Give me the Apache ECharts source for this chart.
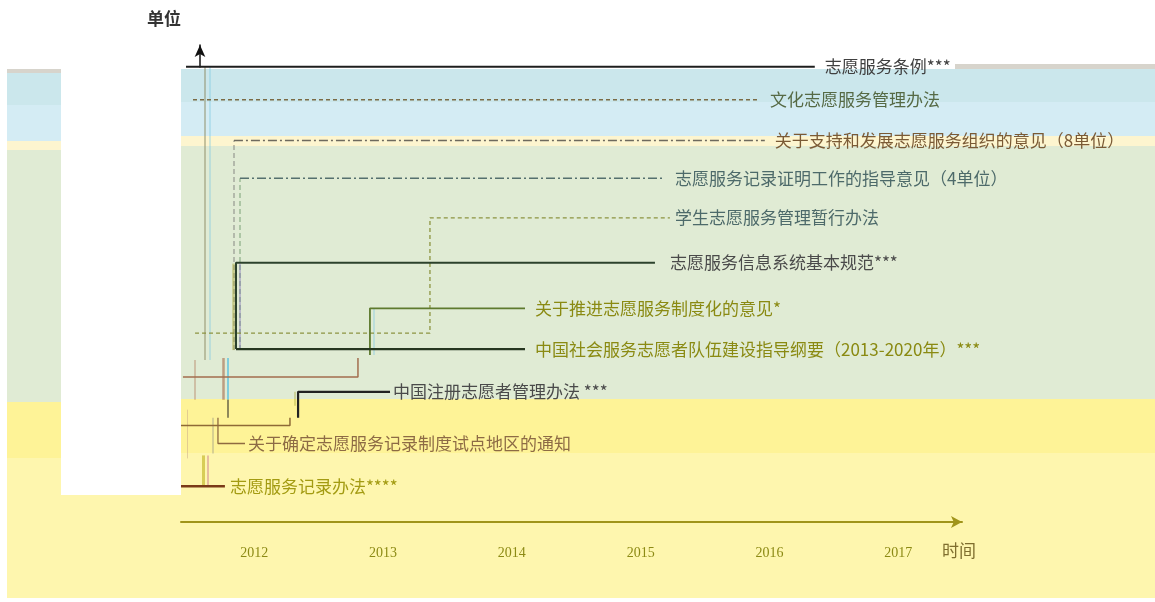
<!DOCTYPE html>
<html>
<head>
<meta charset="utf-8">
<script src="https://cdn.jsdelivr.net/npm/echarts@6/dist/echarts.min.js"></script>
<style>html,body{margin:0;padding:0;background:#fff}#c{width:1155px;height:602px}</style>
</head>
<body>
<div id="c"></div>
<script>
// ---------- data (x in years, y in levels) ----------
const tickLabels = ['2012', '2013', '2014', '2015', '2016', '2017'];
const axisNames = { x: '时间', y: '单位' };

const policyNames = [
  '志愿服务条例***',
  '文化志愿服务管理办法',
  '关于支持和发展志愿服务组织的意见（8单位）',
  '志愿服务记录证明工作的指导意见（4单位）',
  '学生志愿服务管理暂行办法',
  '志愿服务信息系统基本规范***',
  '关于推进志愿服务制度化的意见*',
  '中国社会服务志愿者队伍建设指导纲要（2013-2020年）***',
  '中国注册志愿者管理办法 ***',
  '关于确定志愿服务记录制度试点地区的通知',
  '志愿服务记录办法****'
];
const policyPaths = [
  [[2011.470, 45.8], [2016.352, 45.8]],
  [[2011.524, 42.5], [2015.926, 42.5]],
  [[2011.842, 38.4], [2015.964, 38.4]],
  [[2011.889, 34.6], [2015.189, 34.6]],
  [[2011.540, 19.0], [2013.364, 19.0], [2013.364, 30.6], [2015.227, 30.6]],
  [[2011.858, 17.4], [2011.858, 26.1], [2015.111, 26.1]],
  [[2012.898, 16.8], [2012.898, 21.5], [2014.102, 21.5]],
  [[2011.858, 17.4], [2014.102, 17.4]],
  [[2012.340, 10.5], [2012.340, 13.1], [2013.054, 13.1]],
  [[2011.718, 10.5], [2011.718, 7.9], [2011.928, 7.9]],
  [[2011.431, 3.6], [2011.772, 3.6]]
];
const extraPaths = [
  [[2011.446, 14.6], [2012.805, 14.6], [2012.805, 16.5]],
  [[2011.431, 9.7], [2012.277, 9.7], [2012.277, 10.5]]
];
const connX    = [2011.617, 2011.656, 2011.842, 2011.889, 2011.835, 2011.889, 2012.929, 2011.540, 2011.757, 2011.796, 2011.796, 2011.602, 2011.640, 2011.679, 2011.478, 2012.316];
const connFrom = [16.3, 16.3, 17.3, 17.3, 17.3, 17.3, 16.8, 12.3, 12.3, 12.3, 10.5, 3.6, 3.6, 6.9, 6.4, 11.7];
const connTo   = [45.8, 45.8, 38.4, 34.6, 26.0, 26.0, 21.5, 16.3, 16.5, 16.5, 12.3, 6.7, 6.7, 10.5, 11.3, 13.1];

// ---------- styles ----------
const policyLine = [
  { color: '#1e1e1e', width: 2, type: 'solid' },
  { color: '#7b6b45', width: 1.5, type: [4, 3] },
  { color: '#6e6a5e', width: 1.5, type: [9, 3, 2, 3] },
  { color: '#55706e', width: 1.5, type: [9, 3, 2, 3] },
  { color: '#8c9440', width: 1.3, type: [4, 3] },
  { color: '#2c422c', width: 2, type: 'solid' },
  { color: '#5e7a2e', width: 1.8, type: 'solid' },
  { color: '#263620', width: 2.2, type: 'solid' },
  { color: '#222222', width: 2.2, type: 'solid' },
  { color: '#8e6a40', width: 1.3, type: 'solid' },
  { color: '#7a3a18', width: 2.5, type: 'solid' }
];
const policyLabelColor = ['#404040', '#566a45', '#7a5a35', '#4d6a6a', '#4d6a6a', '#4a4a4a', '#8a8a12', '#8a8a12', '#4a4a4a', '#8d6b45', '#a39b12'];
const policyLabelDist = [10, 10, 10, 10, 5, 15, 10, 10, 3, 3, 5];
const extraLine = [
  { color: '#a36e4e', width: 1.5 },
  { color: '#8e6a36', width: 1.5 }
];
const connStyle = [
  { color: '#8f8f6a', width: 2 }, { color: '#7fcbe4', width: 1.5 },
  { color: '#6a6a6a', width: 1.5, type: [5, 3] }, { color: '#5a8a5a', width: 1.5, type: [5, 3] },
  { color: '#a8a838', width: 2.5 }, { color: '#7a6ab8', width: 1.5 },
  { color: '#80cce6', width: 1.5 }, { color: '#b07a5a', width: 1.5 },
  { color: '#9a5030', width: 2.5 }, { color: '#20b0e6', width: 2 },
  { color: '#1e1e1e', width: 2 }, { color: '#b0a400', width: 3 },
  { color: '#c0608a', width: 1.5 }, { color: '#9a9a8a', width: 1.5 },
  { color: '#c8a888', width: 1 }, { color: '#a8a838', width: 1.5 }
];

const bands = [
  // [x, y, w, h, color]
  [7, 69, 174, 4, '#d7d4cc'],
  [7, 73, 174, 32, '#cbe7ec'],
  [7, 105, 174, 36, '#d4ecf4'],
  [7, 141, 174, 9, '#fdf5cf'],
  [7, 150, 174, 252, '#e0ebd4'],
  [7, 402, 174, 56, '#fef397'],
  [7, 458, 174, 140, '#fef6ae'],
  [61, 55, 120, 440, '#ffffff'],
  [955, 64, 200, 5, '#d7d4cc'],
  [181, 69, 974, 33, '#cbe7ec'],
  [181, 102, 974, 34, '#d4ecf4'],
  [181, 136, 974, 10, '#fdf5cf'],
  [181, 146, 974, 253, '#e0ebd4'],
  [181, 399, 974, 54, '#fef397'],
  [181, 453, 974, 145, '#fef6ae']
];

const FONT = '"Noto Sans CJK SC", "Noto Sans", sans-serif';

const series = [];
series.push({
  type: 'lines', coordinateSystem: 'cartesian2d', xAxisIndex: 0, yAxisIndex: 0,
  silent: true, z: 1, animation: false,
  data: connX.map((x, i) => ({ coords: [[x, connFrom[i]], [x, connTo[i]]], lineStyle: connStyle[i] }))
});
extraPaths.forEach((p, i) => series.push({
  type: 'line', data: p, symbol: 'none', silent: true, z: 2, animation: false,
  lineStyle: extraLine[i]
}));
policyNames.forEach((name, i) => series.push({
  type: 'line', name: name, data: policyPaths[i], symbol: 'none', silent: true, z: 3, animation: false,
  lineStyle: policyLine[i],
  endLabel: {
    show: true, formatter: name, distance: policyLabelDist[i],
    color: policyLabelColor[i], fontSize: 17, fontFamily: FONT
  }
}));

const chart = echarts.init(document.getElementById('c'), null, { renderer: 'canvas' });
chart.setOption({
  backgroundColor: '#ffffff',
  animation: false,
  title: {
    text: axisNames.y, left: 142, top: 5,
    textStyle: { fontSize: 17, fontWeight: 'bold', color: '#333333', fontFamily: FONT }
  },
  graphic: bands.map(b => ({
    type: 'rect', silent: true, z: -10,
    shape: { x: b[0], y: b[1], width: b[2], height: b[3] },
    style: { fill: b[4] }
  })),
  grid: [
    { left: 181, right: 193, top: 45, bottom: 80 },
    { left: 200, top: 45, width: 1, height: 22 }
  ],
  xAxis: [
    {
      type: 'value', gridIndex: 0, min: 2011.431, max: 2017.495,
      name: axisNames.x, nameLocation: 'end', nameGap: -20,
      nameTextStyle: { color: '#7f6e2e', fontSize: 17, fontFamily: FONT, verticalAlign: 'top', padding: [20, 0, 0, 0] },
      axisLine: { show: true, lineStyle: { color: '#a0941a', width: 2 }, symbol: ['none', 'arrow'], symbolSize: [9, 11] },
      axisTick: { show: false },
      splitLine: { show: false },
      axisLabel: {
        customValues: tickLabels.map(Number),
        formatter: v => String(Math.round(v)),
        color: '#8c8a14', fontSize: 14, fontFamily: '"Liberation Serif", serif', margin: 24
      }
    },
    { type: 'value', gridIndex: 1, show: false }
  ],
  yAxis: [
    {
      type: 'value', gridIndex: 0, min: 0, max: 48,
      axisLine: { show: false }, axisTick: { show: false }, axisLabel: { show: false }, splitLine: { show: false }
    },
    {
      type: 'value', gridIndex: 1, min: 0, max: 1,
      axisLine: { show: true, lineStyle: { color: '#111111', width: 1.5 }, symbol: ['none', 'arrow'], symbolSize: [8, 12] },
      axisTick: { show: false }, axisLabel: { show: false }, splitLine: { show: false }
    }
  ],
  series: series
});
</script>
</body>
</html>
